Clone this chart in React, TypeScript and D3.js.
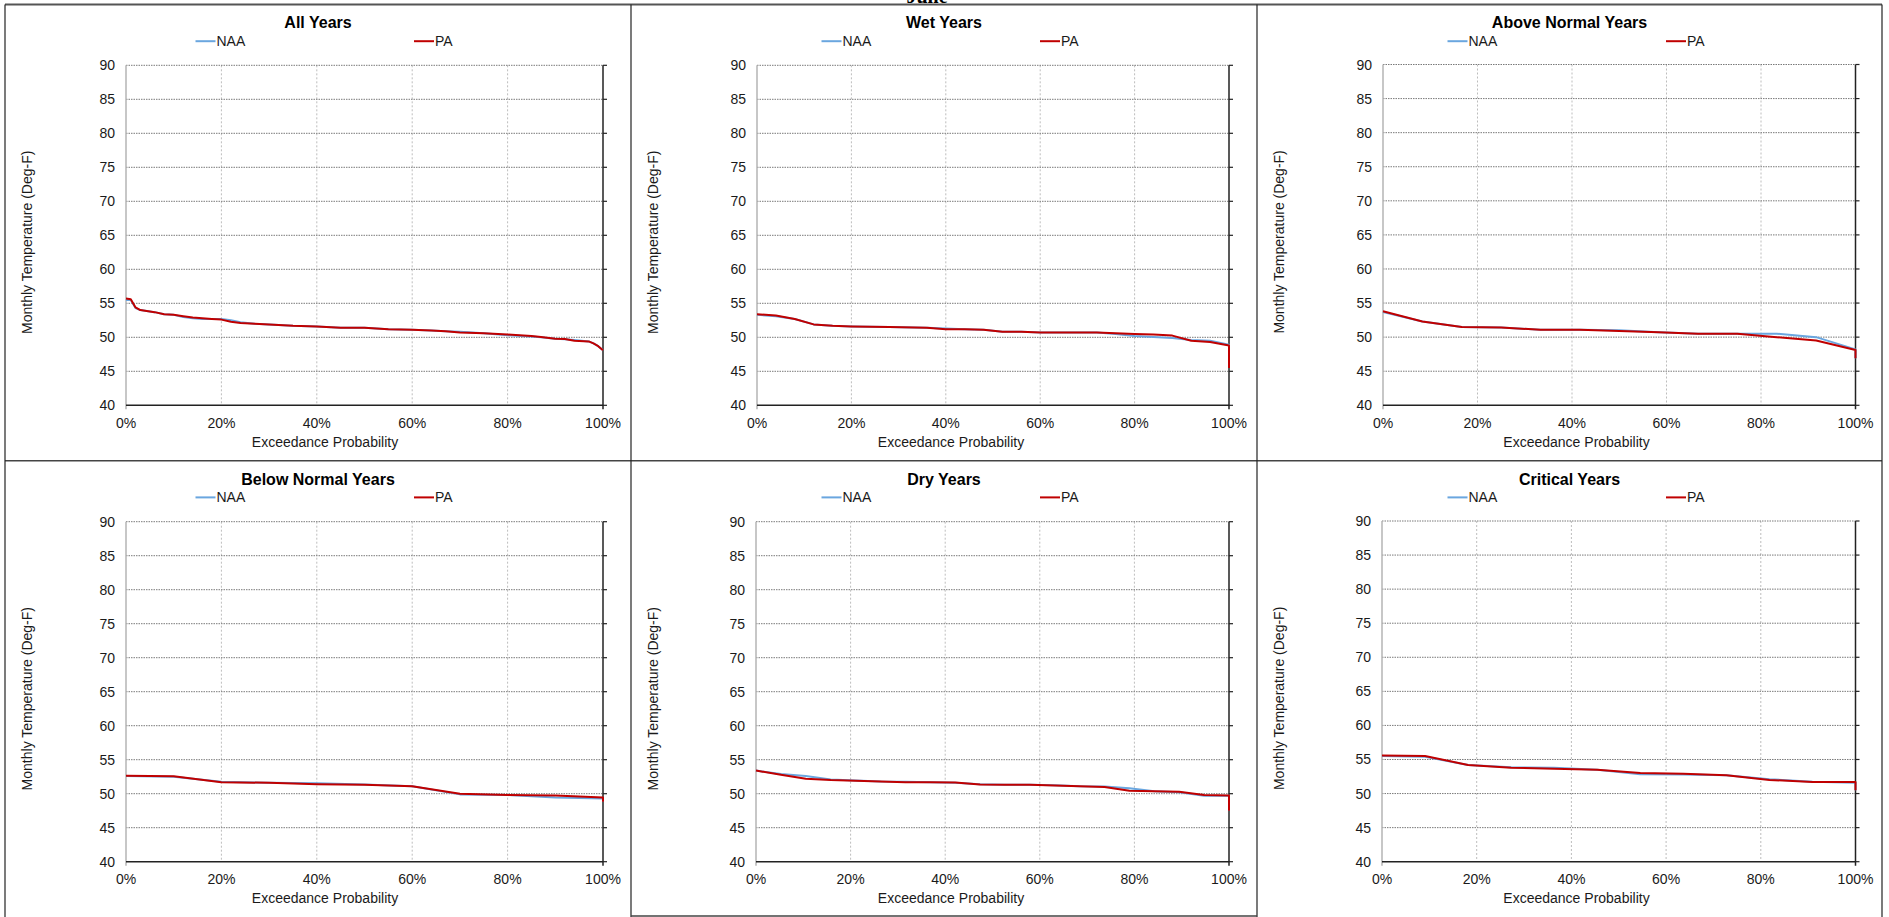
import React from "react";
import * as d3 from "d3";

const W = 1889;
const H = 917;

const panelTitles = ["All Years", "Wet Years", "Above Normal Years", "Below Normal Years", "Dry Years", "Critical Years"];
const seriesNames = ["NAA", "PA"];
const yTicks = [40, 45, 50, 55, 60, 65, 70, 75, 80, 85, 90];
const xTicks = [0, 20, 40, 60, 80, 100];
const xTitle = "Exceedance Probability";
const yTitle = "Monthly Temperature (Deg-F)";
const pageHeading = "June";

// All Years
const allYearsX = [0, 1, 2, 3, 4, 6, 8, 10, 12, 14, 16, 18, 20, 22, 24, 27, 30, 35, 40, 45, 50, 55, 60, 64, 67, 70, 75, 80, 85, 87, 90, 92, 94, 97, 98, 99, 100];
const allYearsPA = [55.7, 55.6, 54.4, 54.0, 53.9, 53.7, 53.4, 53.3, 53.1, 52.9, 52.8, 52.7, 52.6, 52.3, 52.1, 52.0, 51.9, 51.7, 51.6, 51.4, 51.4, 51.2, 51.1, 51.0, 50.9, 50.7, 50.6, 50.4, 50.2, 50.05, 49.8, 49.75, 49.5, 49.4, 49.1, 48.7, 48.1];
const allYearsNAA = [55.5, 55.5, 54.3, 54.0, 53.9, 53.7, 53.4, 53.3, 53.0, 52.8, 52.7, 52.7, 52.7, 52.5, 52.2, 52.0, 51.9, 51.7, 51.6, 51.4, 51.4, 51.2, 51.1, 51.0, 50.9, 50.8, 50.6, 50.3, 50.1, 50.0, 49.8, 49.7, 49.6, 49.4, 49.1, 48.7, 48.1];

// Wet Years
const wetX = [0, 4, 8, 12, 16, 20, 28, 36, 40, 44, 48, 52, 56, 60, 64, 72, 76, 80, 84, 88, 92, 96, 100, 100];
const wetPA = [53.4, 53.2, 52.7, 51.9, 51.7, 51.6, 51.5, 51.4, 51.2, 51.2, 51.1, 50.8, 50.8, 50.7, 50.7, 50.7, 50.6, 50.5, 50.4, 50.25, 49.5, 49.3, 48.8, 45.5];
const wetNAA = [53.3, 53.1, 52.7, 51.9, 51.7, 51.6, 51.5, 51.4, 51.3, 51.2, 51.1, 50.8, 50.8, 50.7, 50.7, 50.7, 50.5, 50.2, 50.05, 49.9, 49.6, 49.5, 48.9, 45.5];

// Above Normal Years
const aboveNormalX = [0, 8.33, 16.67, 25, 33.33, 41.67, 50, 58.33, 66.67, 75, 83.33, 91.67, 100, 100];
const aboveNormalPA = [53.8, 52.3, 51.5, 51.4, 51.1, 51.1, 50.9, 50.7, 50.5, 50.5, 50.0, 49.5, 48.1, 46.9];
const aboveNormalNAA = [53.7, 52.3, 51.5, 51.4, 51.1, 51.1, 51.0, 50.7, 50.5, 50.5, 50.5, 50.0, 48.2, 46.9];

// Below Normal Years
const belowNormalX = [0, 10, 20, 30, 40, 50, 60, 70, 80, 90, 100, 100];
const belowNormalPA = [52.65, 52.55, 51.7, 51.6, 51.4, 51.3, 51.1, 50.0, 49.8, 49.75, 49.45, 48.8];
const belowNormalNAA = [52.6, 52.5, 51.75, 51.6, 51.55, 51.35, 51.1, 49.9, 49.8, 49.45, 49.3, 48.8];

// Dry Years
const dryX = [0, 5.26, 10.53, 15.79, 21.05, 26.32, 31.58, 36.84, 42.11, 47.37, 52.63, 57.89, 63.16, 68.42, 73.68, 78.95, 84.21, 89.47, 94.74, 100, 100];
const dryPA = [53.4, 52.8, 52.2, 52.0, 51.9, 51.8, 51.7, 51.7, 51.65, 51.35, 51.3, 51.3, 51.2, 51.1, 51.0, 50.45, 50.35, 50.3, 49.8, 49.75, 47.5];
const dryNAA = [53.4, 52.9, 52.6, 52.1, 51.95, 51.8, 51.75, 51.7, 51.6, 51.4, 51.3, 51.3, 51.25, 51.1, 51.05, 50.8, 50.35, 50.2, 49.7, 49.7, 47.5];

// Critical Years
const criticalX = [0, 9.09, 18.18, 27.27, 36.36, 45.45, 54.55, 63.64, 72.73, 81.82, 90.91, 100, 100];
const criticalPA = [55.6, 55.5, 54.2, 53.8, 53.65, 53.5, 53.0, 52.9, 52.7, 52.0, 51.7, 51.7, 50.5];
const criticalNAA = [55.5, 55.4, 54.2, 53.85, 53.8, 53.5, 52.85, 52.8, 52.7, 52.1, 51.75, 51.6, 50.5];

const panelX = [allYearsX, wetX, aboveNormalX, belowNormalX, dryX, criticalX];
const panelNAA = [allYearsNAA, wetNAA, aboveNormalNAA, belowNormalNAA, dryNAA, criticalNAA];
const panelPA = [allYearsPA, wetPA, aboveNormalPA, belowNormalPA, dryPA, criticalPA];

// layout (pixels)
const cellLefts = [5, 631, 1257];
const cellRight = 1882;
const rowTops = [4.5, 460.7];
const plotBoxes = [
  { l: 126, r: 603, t: 65.3, b: 405.3 },
  { l: 757, r: 1229, t: 65.3, b: 405.3 },
  { l: 1383, r: 1855.5, t: 64.5, b: 405.3 },
  { l: 126, r: 603, t: 521.7, b: 861.7 },
  { l: 756, r: 1229, t: 521.7, b: 861.7 },
  { l: 1382, r: 1855.5, t: 521, b: 861.7 },
];

const FONT = "'Liberation Sans', Arial, Helvetica, sans-serif";
const NAA_COLOR = "#6aa6df";
const PA_COLOR = "#c00000";
const TEXT = "#1a1a1a";

function Panel({ idx }: { idx: number }) {
  const col = idx % 3;
  const row = Math.floor(idx / 3);
  const cellL = cellLefts[col];
  const cellR = col < 2 ? cellLefts[col + 1] : cellRight;
  const cellC = (cellL + cellR) / 2;
  const top = rowTops[row];
  const box = plotBoxes[idx];
  const x = d3.scaleLinear().domain([0, 100]).range([box.l, box.r]);
  const y = d3.scaleLinear().domain([40, 90]).range([box.b, box.t]);
  const xs = panelX[idx];
  const line = d3
    .line<number>()
    .x((_, i) => x(xs[i]))
    .y((d) => y(d));
  const naa = panelNAA[idx];
  const pa = panelPA[idx];
  const midY = (box.t + box.b) / 2 + 7;
  const yTitleX = cellL + 21.5;
  return (
    <g>
      {/* title */}
      <text x={cellC} y={top + 23.8} textAnchor="middle" fontFamily={FONT} fontWeight="bold" fontSize={16} fill="#000">
        {panelTitles[idx]}
      </text>
      {/* legend */}
      <line x1={cellL + 190.5} x2={cellL + 210.5} y1={top + 36.7} y2={top + 36.7} stroke={NAA_COLOR} strokeWidth={2} />
      <text x={cellL + 211.5} y={top + 41.7} fontFamily={FONT} fontSize={14} fill={TEXT}>
        {seriesNames[0]}
      </text>
      <line x1={cellL + 409} x2={cellL + 429} y1={top + 36.7} y2={top + 36.7} stroke={PA_COLOR} strokeWidth={2} />
      <text x={cellL + 430} y={top + 41.7} fontFamily={FONT} fontSize={14} fill={TEXT}>
        {seriesNames[1]}
      </text>
      {/* vertical gridlines */}
      {xTicks.filter((t) => t > 0 && t < 100).map((t) => (
        <line key={"vx" + t} x1={x(t)} x2={x(t)} y1={box.t} y2={box.b} stroke="#bdbdbd" strokeWidth={1} strokeDasharray="2,2" />
      ))}
      {/* horizontal gridlines */}
      {yTicks.filter((t) => t > 40).map((t) => (
        <line key={"hy" + t} x1={box.l} x2={box.r} y1={y(t)} y2={y(t)} stroke="#7a7a7a" strokeWidth={1} strokeDasharray="1.5,1" />
      ))}
      {/* right axis ticks */}
      {yTicks.map((t) => (
        <line key={"rt" + t} x1={box.r} x2={box.r + 4} y1={y(t)} y2={y(t)} stroke="#222" strokeWidth={1.2} />
      ))}
      {/* left axis (light) */}
      <line x1={box.l} x2={box.l} y1={box.t} y2={box.b + 4} stroke="#b4b4b4" strokeWidth={1.5} />
      {/* bottom axis */}
      <line x1={box.l} x2={box.r} y1={box.b} y2={box.b} stroke="#222" strokeWidth={1.5} />
      {/* right axis */}
      <line x1={box.r} x2={box.r} y1={box.t} y2={box.b + 4} stroke="#222" strokeWidth={1.5} />
      {/* y tick labels */}
      {yTicks.map((t) => (
        <text key={"yl" + t} x={box.l - 11} y={y(t) + 5} textAnchor="end" fontFamily={FONT} fontSize={14} fill={TEXT}>
          {t}
        </text>
      ))}
      {/* x tick labels */}
      {xTicks.map((t) => (
        <text key={"xl" + t} x={x(t)} y={box.b + 22.5} textAnchor="middle" fontFamily={FONT} fontSize={14} fill={TEXT}>
          {t + "%"}
        </text>
      ))}
      {/* axis titles */}
      <text x={cellC + 7} y={box.b + 41.5} textAnchor="middle" fontFamily={FONT} fontSize={14} fill={TEXT}>
        {xTitle}
      </text>
      <text
        x={0}
        y={0}
        transform={`translate(${yTitleX + 5},${midY}) rotate(-90)`}
        textAnchor="middle"
        fontFamily={FONT}
        fontSize={14}
        fill={TEXT}
      >
        {yTitle}
      </text>
      {/* series */}
      <path d={line(naa) || ""} fill="none" stroke={NAA_COLOR} strokeWidth={2} strokeLinejoin="round" />
      <path d={line(pa) || ""} fill="none" stroke={PA_COLOR} strokeWidth={2} strokeLinejoin="round" />
    </g>
  );
}

export default function App() {
  return (
    <div style={{ position: "absolute", left: 0, top: 0, width: W, height: H, background: "#fff" }}>
      <svg width={W} height={H} viewBox={`0 0 ${W} ${H}`} style={{ display: "block" }}>
        <rect x={0} y={0} width={W} height={H} fill="#fff" />
        {/* partially visible page heading (cut at the top edge, as in the source page) */}
        <text x={927} y={3} textAnchor="middle" fontFamily="'Liberation Serif', 'Times New Roman', serif" fontWeight="bold" fontSize={20} fill="#000">
          {pageHeading}
        </text>
        {/* table frame */}
        <line x1={cellLefts[0]} x2={cellRight} y1={rowTops[0]} y2={rowTops[0]} stroke="#555" strokeWidth={1.8} />
        <line x1={cellLefts[0]} x2={cellRight} y1={rowTops[1]} y2={rowTops[1]} stroke="#444" strokeWidth={1.6} />
        <line x1={cellLefts[0]} x2={cellLefts[0]} y1={rowTops[0]} y2={H} stroke="#222" strokeWidth={1.2} />
        <line x1={cellLefts[1]} x2={cellLefts[1]} y1={rowTops[0]} y2={H} stroke="#222" strokeWidth={1.2} />
        <line x1={cellLefts[2]} x2={cellLefts[2]} y1={rowTops[0]} y2={H} stroke="#222" strokeWidth={1.2} />
        <line x1={cellRight} x2={cellRight} y1={rowTops[0]} y2={H} stroke="#222" strokeWidth={1.2} />
        <line x1={cellLefts[1]} x2={cellLefts[2]} y1={916} y2={916} stroke="#444" strokeWidth={1.5} />
        {panelTitles.map((_, i) => (
          <Panel key={i} idx={i} />
        ))}
      </svg>
    </div>
  );
}
